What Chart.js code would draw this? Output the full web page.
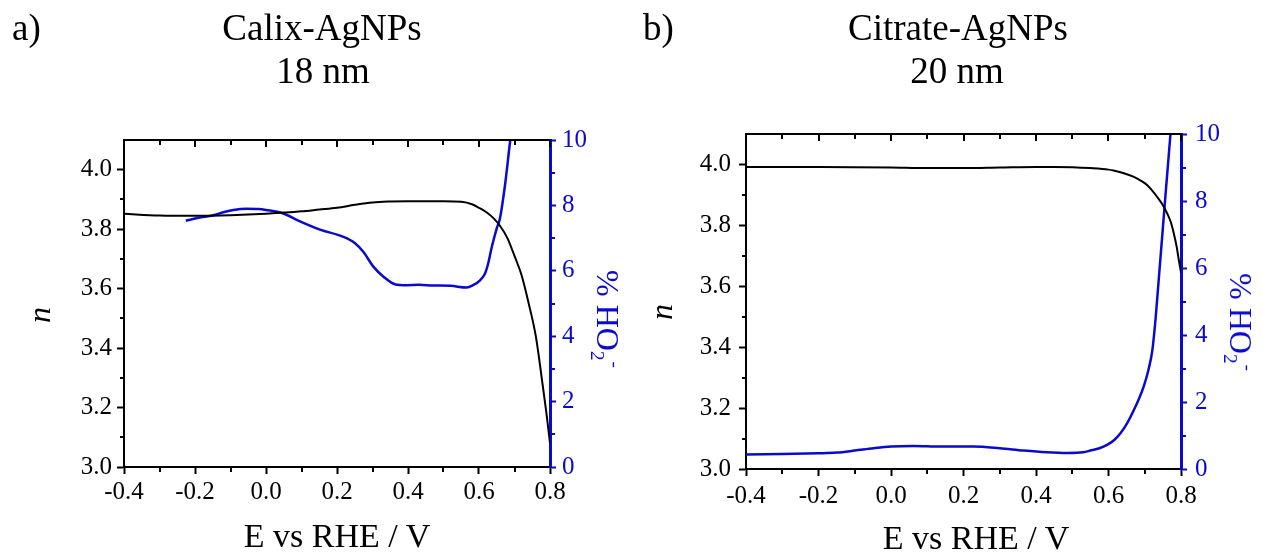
<!DOCTYPE html>
<html><head><meta charset="utf-8">
<script src="https://cdn.jsdelivr.net/npm/chart.js@4"></script>
<style>
html,body{margin:0;padding:0;background:#fff;width:1263px;height:554px;overflow:hidden;font-family:'Liberation Serif','Times New Roman',serif;}
canvas{position:absolute;top:0;}
.t{position:absolute;white-space:nowrap;line-height:1;color:#000;}
.c{transform:translateX(-50%);}
.n{font-style:italic;font-size:32px;transform:translate(-50%,-50%) rotate(-90deg);}
.h{font-size:32px;color:#0A0ACC;transform:translate(-50%,-50%) rotate(90deg);}
.sb{font-size:0.6em;position:relative;top:0.3em;}
.sp{font-size:0.6em;position:relative;top:-0.6em;margin-left:0.05em;}
</style></head><body>
<canvas id="c1" width="631" height="554" style="left:0"></canvas>
<canvas id="c2" width="632" height="554" style="left:631px"></canvas>

<div class="t" style="left:12px;top:9px;font-size:37px;">a)</div>
<div class="t c" style="left:322px;top:9px;font-size:37px;">Calix-AgNPs</div>
<div class="t c" style="left:323px;top:52px;font-size:37px;">18 nm</div>
<div class="t n" style="left:39px;top:315px;">n</div>
<div class="t h" style="left:608px;top:319px;">% HO<span class="sb">2</span><span class="sp">-</span></div>
<div class="t c" style="left:337px;top:519px;font-size:34px;">E vs RHE / V</div>

<div class="t" style="left:643px;top:9px;font-size:37px;">b)</div>
<div class="t c" style="left:958px;top:9px;font-size:37px;">Citrate-AgNPs</div>
<div class="t c" style="left:957px;top:52px;font-size:37px;">20 nm</div>
<div class="t n" style="left:661px;top:312px;">n</div>
<div class="t h" style="left:1241px;top:322px;">% HO<span class="sb">2</span><span class="sp">-</span></div>
<div class="t c" style="left:976px;top:521px;font-size:34px;">E vs RHE / V</div>

<script>
// ---- tick values ----
const X_TICKS = [-0.4, -0.2, 0.0, 0.2, 0.4, 0.6, 0.8];
const X_MINOR = [-0.3, -0.1, 0.1, 0.3, 0.5, 0.7];
const N_TICKS = [3.0, 3.2, 3.4, 3.6, 3.8, 4.0];
const N_MINOR = [3.1, 3.3, 3.5, 3.7, 3.9];
const H_TICKS = [0, 2, 4, 6, 8, 10];
const H_MINOR = [1, 3, 5, 7, 9];

// ---- a) Calix-AgNPs 18 nm ----
const calixE_n = [-0.4,-0.3,-0.2,-0.1,0.0,0.1,0.15,0.2,0.25,0.3,0.35,0.4,0.5,0.55,0.58,0.6,0.62,0.64,0.66,0.68,0.70,0.72,0.74,0.76,0.78,0.79,0.80];
const calix_n  = [3.852,3.846,3.845,3.847,3.852,3.860,3.866,3.872,3.882,3.890,3.893,3.894,3.894,3.892,3.884,3.872,3.858,3.838,3.810,3.770,3.710,3.645,3.550,3.440,3.270,3.180,3.080];
const calixE_h = [-0.226,-0.19,-0.149,-0.12,-0.092,-0.055,-0.02,0.0,0.047,0.094,0.152,0.218,0.25,0.274,0.303,0.331,0.363,0.396,0.43,0.47,0.52,0.565,0.583,0.603,0.617,0.626,0.636,0.650,0.659,0.673,0.687,0.695];
const calix_h  = [7.53,7.62,7.70,7.79,7.86,7.90,7.89,7.86,7.76,7.52,7.26,7.04,6.85,6.58,6.12,5.82,5.59,5.56,5.57,5.55,5.54,5.49,5.56,5.71,5.92,6.23,6.73,7.30,7.60,8.60,9.90,10.6];

// ---- b) Citrate-AgNPs 20 nm ----
const citE_n = [-0.4,-0.2,0.0,0.1,0.2,0.3,0.4,0.45,0.5,0.55,0.6,0.614,0.64,0.67,0.69,0.707,0.72,0.734,0.748,0.762,0.772,0.780,0.788,0.794,0.8];
const cit_n  = [3.992,3.992,3.990,3.988,3.988,3.990,3.992,3.992,3.991,3.988,3.983,3.980,3.972,3.959,3.946,3.932,3.915,3.894,3.870,3.839,3.810,3.774,3.730,3.686,3.645];
const citE_h = [-0.4,-0.3,-0.2,-0.15,-0.1,-0.048,0.0,0.062,0.136,0.228,0.3,0.366,0.43,0.486,0.53,0.55,0.575,0.596,0.615,0.633,0.652,0.670,0.685,0.697,0.71,0.721,0.73,0.74,0.75,0.76,0.771,0.776];
const cit_h  = [0.43,0.45,0.47,0.49,0.55,0.62,0.67,0.69,0.67,0.67,0.62,0.55,0.50,0.48,0.50,0.55,0.62,0.72,0.86,1.07,1.38,1.76,2.12,2.46,2.95,3.55,4.50,5.85,7.20,8.55,10.0,10.7];

const BLACK = '#000000';
const BLUE = '#0A0ACC';
Chart.defaults.font.family = "'Liberation Serif','Times New Roman',serif";

const pts = (xs, ys) => xs.map((x, i) => ({x: x, y: ys[i]}));

const framePlugin = {
  id: 'frame',
  afterDraw(chart) {
    const {ctx, chartArea: a, scales} = chart;
    const sx = scales.x, sy = scales.y, sh = scales.y1;
    ctx.save();
    ctx.lineWidth = 2;
    ctx.strokeStyle = BLACK;
    ctx.beginPath(); ctx.moveTo(a.left - 1, a.top); ctx.lineTo(a.right, a.top); ctx.stroke();
    X_TICKS.concat(X_MINOR).forEach(v => {
      const px = Math.round(sx.getPixelForValue(v));
      const len = X_TICKS.includes(v) ? 7 : 5;
      ctx.beginPath(); ctx.moveTo(px, a.top); ctx.lineTo(px, a.top + len); ctx.stroke();
    });
    X_MINOR.forEach(v => {
      const px = Math.round(sx.getPixelForValue(v));
      ctx.beginPath(); ctx.moveTo(px, a.bottom); ctx.lineTo(px, a.bottom + 5); ctx.stroke();
    });
    N_MINOR.forEach(v => {
      const py = Math.round(sy.getPixelForValue(v));
      ctx.beginPath(); ctx.moveTo(a.left, py); ctx.lineTo(a.left - 4, py); ctx.stroke();
    });
    ctx.strokeStyle = BLUE;
    H_MINOR.forEach(v => {
      const py = Math.round(sh.getPixelForValue(v));
      ctx.beginPath(); ctx.moveTo(a.right, py); ctx.lineTo(a.right + 5, py); ctx.stroke();
    });
    ctx.restore();
  }
};

function makeChart(id, geom, black, blue) {
  const cv = document.getElementById(id);
  const W = cv.width, H = cv.height;
  return new Chart(cv, {
    type: 'line',
    data: {
      datasets: [
        {data: black, yAxisID: 'y', borderColor: BLACK, borderWidth: 2, pointRadius: 0, cubicInterpolationMode: 'monotone', fill: false},
        {data: blue, yAxisID: 'y1', borderColor: BLUE, borderWidth: 2.5, pointRadius: 0, cubicInterpolationMode: 'monotone', fill: false}
      ]
    },
    options: {
      responsive: false,
      animation: false,
      devicePixelRatio: 1,
      layout: {padding: {top: geom.top, left: 0, right: 0, bottom: 0}},
      plugins: {legend: {display: false}, tooltip: {enabled: false}},
      scales: {
        x: {
          type: 'linear', position: 'bottom', min: -0.4, max: 0.8,
          afterBuildTicks: s => { s.ticks = X_TICKS.map(v => ({value: v})); },
          afterFit: s => { s.height = H - geom.bottom; },
          ticks: {color: BLACK, font: {size: 25}, padding: geom.xpad, maxRotation: 0, autoSkip: false,
                  callback: v => Number(v).toFixed(1)},
          grid: {drawOnChartArea: false, drawTicks: true, tickLength: 7, tickWidth: 2, tickColor: BLACK, color: BLACK},
          border: {display: true, color: BLACK, width: 2}
        },
        y: {
          type: 'linear', position: 'left', min: 3.0, max: 4.1,
          afterBuildTicks: s => { s.ticks = N_TICKS.map(v => ({value: v})); },
          afterFit: s => { s.width = geom.left; },
          ticks: {color: BLACK, font: {size: 25}, padding: geom.ypad, autoSkip: false,
                  callback: v => Number(v).toFixed(1)},
          grid: {drawOnChartArea: false, drawTicks: true, tickLength: 7, tickWidth: 2, tickColor: BLACK, color: BLACK},
          border: {display: true, color: BLACK, width: 2}
        },
        y1: {
          type: 'linear', position: 'right', min: 0, max: 10,
          afterBuildTicks: s => { s.ticks = H_TICKS.map(v => ({value: v})); },
          afterFit: s => { s.width = W - geom.right; },
          ticks: {color: BLUE, font: {size: 25}, padding: geom.hpad, autoSkip: false,
                  callback: v => String(v)},
          grid: {drawOnChartArea: false, drawTicks: true, tickLength: 6, tickWidth: 2, tickColor: BLUE, color: BLUE},
          border: {display: true, color: BLUE, width: 3}
        }
      }
    },
    plugins: [framePlugin]
  });
}

makeChart('c1', {top: 140, bottom: 467, left: 124, right: 550, xpad: 3, ypad: 5, hpad: 6},
  pts(calixE_n, calix_n), pts(calixE_h, calix_h));
makeChart('c2', {top: 134, bottom: 469, left: 115, right: 550, xpad: 5, ypad: 8, hpad: 8},
  pts(citE_n, cit_n), pts(citE_h, cit_h));
</script>
</body></html>
